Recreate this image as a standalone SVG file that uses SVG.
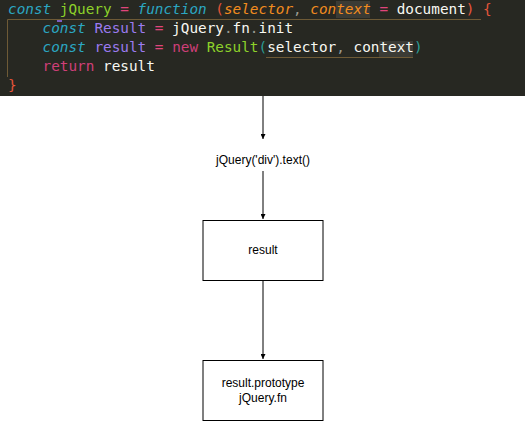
<svg xmlns="http://www.w3.org/2000/svg" width="525" height="421" viewBox="0 0 525 421">
<style>
.code{font-family:"DejaVu Sans Mono","Liberation Mono",monospace;font-size:14.35px;fill:#f8f8f2}
.kw{fill:#2ba7c2;font-style:italic}
.gr{fill:#8dd12a}
.pk{fill:#e0457b}
.rt{fill:#cf3f78}
.or{fill:#f28c1f;font-style:italic}
.br{fill:#e5553a}
.pu{fill:#9b7bf0}
.tl{fill:#2a9d96}
.gy{fill:#9a9a90}
.lbl{font-family:"Liberation Sans",Arial,sans-serif;font-size:12px;fill:#000;text-anchor:middle}
.box{fill:#fff;stroke:#000;stroke-width:1}
.edge{stroke:#000;stroke-width:1;fill:none}
</style>
<defs>
<marker id="arr" markerUnits="userSpaceOnUse" markerWidth="10" markerHeight="10" viewBox="-5 -8 10 10" refX="0" refY="0" orient="auto-start-reverse">
<path d="M-3.5,-7 L0,0 L3.5,-7 L0,-5.5 Z" transform="rotate(-90)" fill="#000"/>
</marker>
</defs>
<g id="code">
<rect x="0" y="0" width="525" height="96" fill="#272822"/>
<rect x="336" y="1" width="34" height="17" fill="#3b3b35"/>
<rect x="379" y="41" width="34" height="16" fill="#3b3b35"/>
<path d="M7.5,77 V19.5 H481" stroke="#6e5a36" fill="none"/>
<path d="M266,57.5 H413" stroke="#6e5a36" fill="none"/>
<rect x="57" y="20" width="5" height="2" fill="#7a5fc0"/>
<text class="code" x="8" y="14" xml:space="preserve"><tspan class="kw">const</tspan> <tspan class="gr">jQuery</tspan> <tspan class="pk">=</tspan> <tspan class="kw">function</tspan> <tspan class="br">(</tspan><tspan class="or">selector</tspan><tspan class="gy">,</tspan> <tspan class="or">context</tspan> <tspan class="pk">=</tspan> document<tspan class="br">)</tspan> <tspan class="br">{</tspan></text>
<text class="code" x="8" y="33" xml:space="preserve">    <tspan class="kw">const</tspan> <tspan class="pu">Result</tspan> <tspan class="pk">=</tspan> jQuery<tspan class="gy">.</tspan>fn<tspan class="gy">.</tspan>init</text>
<text class="code" x="8" y="52" xml:space="preserve">    <tspan class="kw">const</tspan> <tspan class="pu">result</tspan> <tspan class="pk">=</tspan> <tspan class="rt">new</tspan> <tspan class="gr">Result</tspan><tspan class="tl">(</tspan>selector<tspan class="gy">,</tspan> context<tspan class="tl">)</tspan></text>
<text class="code" x="8" y="71" xml:space="preserve">    <tspan class="rt">return</tspan> result</text>
<text class="code" x="8" y="90" xml:space="preserve"><tspan class="br">}</tspan></text>
</g>
<g id="connectors">
<path class="edge" d="M263,96 V139" marker-end="url(#arr)"/>
<path class="edge" d="M263,171 V219" marker-end="url(#arr)"/>
<path class="edge" d="M263,280.5 V359" marker-end="url(#arr)"/>
</g>
<g id="call">
<text class="lbl" x="263" y="164">jQuery('div').text()</text>
</g>
<g id="result">
<rect class="box" x="203" y="220.5" width="120" height="60"/>
<text class="lbl" x="263" y="254">result</text>
</g>
<g id="prototype">
<rect class="box" x="203" y="360.5" width="120" height="60"/>
<text class="lbl" x="263" y="387">result.prototype</text>
<text class="lbl" x="263" y="402">jQuery.fn</text>
</g>
</svg>
